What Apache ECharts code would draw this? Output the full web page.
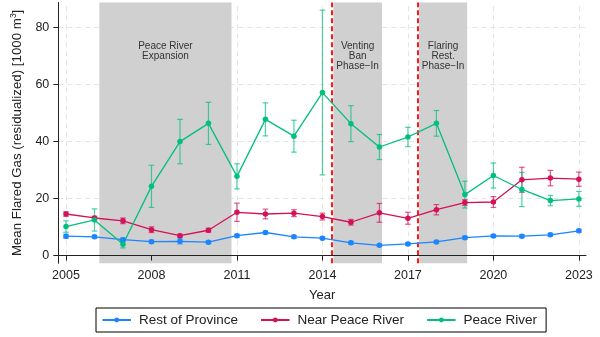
<!DOCTYPE html>
<html>
<head>
<meta charset="utf-8">
<script src="https://cdn.jsdelivr.net/npm/echarts@6/dist/echarts.min.js"></script>
<style>
  html, body { margin: 0; padding: 0; background: #fff; }
  #chart { width: 600px; height: 337px; }
</style>
</head>
<body>
<div id="chart"></div>
<script>
// Annual mean flared gas (residualized), 1000 m3, with 95% CI half-widths
const years = [2005, 2006, 2007, 2008, 2009, 2010, 2011, 2012, 2013, 2014,
               2015, 2016, 2017, 2018, 2019, 2020, 2021, 2022, 2023];

const restProvince    = [6.8, 6.6, 5.6, 4.9, 5.0, 4.7, 7.0, 8.1, 6.6, 6.1,
                         4.5, 3.6, 4.1, 4.8, 6.3, 6.9, 6.8, 7.3, 8.7];
const restProvinceErr = [0.7, 0.5, 0.6, 0.5, 0.9, 0.5, 0.5, 0.5, 0.5, 0.5,
                         0.5, 0.4, 0.5, 0.5, 0.5, 0.5, 0.5, 0.5, 0.5];

const nearPeace    = [14.6, 13.2, 12.2, 9.1, 7.0, 8.9, 15.2, 14.6, 14.9, 13.7,
                      11.7, 15.0, 13.1, 16.1, 18.6, 18.8, 26.6, 27.2, 26.8];
const nearPeaceErr = [0.8, 0.6, 1.0, 1.0, 0.5, 0.7, 3.2, 1.7, 1.2, 1.2,
                      1.0, 3.3, 2.1, 1.8, 1.0, 1.9, 4.4, 2.7, 2.5];

const peaceRiver    = [10.2, 12.5, 4.0, 24.3, 40.0, 46.4, 27.8, 47.8, 41.9, 57.2,
                       46.3, 38.1, 41.6, 46.4, 21.4, 28.1, 23.2, 19.3, 19.9];
const peaceRiverErr = [2.0, 3.9, 1.3, 7.4, 7.8, 7.4, 4.4, 5.8, 5.6, 28.9,
                       6.3, 4.4, 3.4, 4.5, 4.7, 4.4, 6.0, 1.8, 2.6];

const seriesNames = ['Rest of Province', 'Near Peace River', 'Peace River'];

// Axis ticks
const xTicks = [2005, 2008, 2011, 2014, 2017, 2020, 2023];
const yTicks = [0, 20, 40, 60, 80];

// Policy periods (fractional years) and announcement dates
const periodNames = ['Peace River\nExpansion', 'Venting\nBan\nPhase\u2212In', 'Flaring\nRest.\nPhase\u2212In'];
const periodStart = [2006.17, 2014.38, 2017.39];
const periodEnd   = [2010.81, 2016.09, 2019.08];
const policyDates = [2014.34, 2017.34];

const colors = ['#1a85ff', '#d41159', '#00bf7f'];
const FONT = '"Liberation Sans", Arial, Helvetica, sans-serif';

const chart = echarts.init(document.getElementById('chart'), null, { renderer: 'canvas' });

function pairs(vals) { return years.map((y, i) => [y, vals[i]]); }
function bars(vals, errs) { return years.map((y, i) => [y, vals[i] - errs[i], vals[i] + errs[i]]); }

function errorBarSeries(name, vals, errs, color) {
  return {
    name: name,
    type: 'custom',
    z: 4,
    silent: true,
    data: bars(vals, errs),
    encode: { x: 0, y: [1, 2] },
    renderItem: function (params, api) {
      const x = api.value(0);
      const lo = api.coord([x, api.value(1)]);
      const hi = api.coord([x, api.value(2)]);
      const w = 2.8;
      const style = { stroke: color, lineWidth: 1.2, opacity: 0.7, fill: null };
      return {
        type: 'group',
        children: [
          { type: 'line', shape: { x1: lo[0], y1: lo[1], x2: hi[0], y2: hi[1] }, style: style },
          { type: 'line', shape: { x1: lo[0] - w, y1: lo[1], x2: lo[0] + w, y2: lo[1] }, style: style },
          { type: 'line', shape: { x1: hi[0] - w, y1: hi[1], x2: hi[0] + w, y2: hi[1] }, style: style }
        ]
      };
    }
  };
}

function lineSeries(name, vals, color) {
  return {
    name: name,
    type: 'line',
    z: 5,
    data: pairs(vals),
    symbol: 'circle',
    symbolSize: 5.5,
    showSymbol: true,
    lineStyle: { color: color, width: 1.3 },
    itemStyle: { color: color },
    emphasis: { disabled: true }
  };
}

const gridLineStyle = { color: '#e4e4e4', width: 1, type: [5, 4] };

const option = {
  animation: false,
  backgroundColor: '#fff',
  color: colors,
  textStyle: { fontFamily: FONT },
  grid: { left: 58.3, right: 14, top: 2.5, bottom: 73.7 },
  legend: {
    data: seriesNames,
    left: 96,
    top: 308,
    width: 460,
    itemWidth: 28.5,
    itemHeight: 6,
    itemGap: 22,
    padding: [5, 9, 5, 5.5],
    borderColor: '#000',
    borderWidth: 1,
    textStyle: { fontSize: 13.5, color: '#222', fontFamily: FONT, padding: [0, 0, 0, 3] }
  },
  xAxis: {
    type: 'value',
    min: 2004.73,
    max: 2023.25,
    z: 10,
    name: 'Year',
    nameLocation: 'middle',
    nameGap: 26,
    nameTextStyle: { fontSize: 13, color: '#222', fontFamily: FONT },
    axisLine: { show: true, lineStyle: { color: '#222', width: 1 } },
    axisTick: { show: true, customValues: xTicks, length: 5, lineStyle: { color: '#222' } },
    axisLabel: {
      customValues: xTicks, fontSize: 12.5, color: '#222', margin: 6, fontFamily: FONT,
      formatter: v => String(v)
    },
    splitLine: { show: false }
  },
  yAxis: {
    type: 'value',
    min: -2.7,
    max: 88.8,
    z: 10,
    name: 'Mean Flared Gas (residualized) [1000 m{sup|3}]',
    nameLocation: 'middle',
    nameGap: 33,
    nameTextStyle: {
      fontSize: 13.3, color: '#222', fontFamily: FONT,
      rich: { sup: { fontSize: 8.5, color: '#222', fontFamily: FONT, padding: [0, 0, 7, 0] } }
    },
    axisLine: { show: true, lineStyle: { color: '#222', width: 1 } },
    axisTick: { show: true, customValues: yTicks, length: 5, lineStyle: { color: '#222' } },
    axisLabel: {
      customValues: yTicks, fontSize: 12.5, color: '#222', margin: 9, fontFamily: FONT,
      formatter: v => String(v)
    },
    splitLine: { show: false }
  },
  series: [
    // data lines first so the legend takes their line-and-dot icons
    lineSeries(seriesNames[0], restProvince, colors[0]),
    lineSeries(seriesNames[1], nearPeace, colors[1]),
    lineSeries(seriesNames[2], peaceRiver, colors[2]),
    errorBarSeries(seriesNames[0], restProvince, restProvinceErr, colors[0]),
    errorBarSeries(seriesNames[1], nearPeace, nearPeaceErr, colors[1]),
    errorBarSeries(seriesNames[2], peaceRiver, peaceRiverErr, colors[2]),
    // background grid
    {
      type: 'line', data: [], z: 1, silent: true,
      markLine: {
        z: 1, silent: true, symbol: ['none', 'none'], label: { show: false },
        lineStyle: gridLineStyle, emphasis: { disabled: true },
        data: xTicks.map(v => ({ xAxis: v })).concat(yTicks.map(v => ({ yAxis: v })))
      }
    },
    // policy periods
    {
      type: 'line', data: [], z: 2, silent: true,
      markArea: {
        z: 2, silent: true,
        itemStyle: { color: '#d0d0d0' },
        emphasis: { disabled: true },
        label: {
          show: true, position: 'insideTop', distance: 39,
          fontSize: 10, lineHeight: 10, color: '#333', fontFamily: FONT, align: 'center'
        },
        data: periodNames.map((n, i) => [{ name: n, xAxis: periodStart[i] }, { xAxis: periodEnd[i] }])
      }
    },
    // policy announcement dates
    {
      type: 'line', data: [], z: 3, silent: true,
      markLine: {
        z: 3, silent: true, symbol: ['none', 'none'], label: { show: false },
        lineStyle: { color: '#ff1a1a', width: 2, type: [5, 3] },
        emphasis: { disabled: true },
        data: policyDates.map(v => ({ xAxis: v }))
      }
    }
  ]
};

chart.setOption(option);
</script>
</body>
</html>
